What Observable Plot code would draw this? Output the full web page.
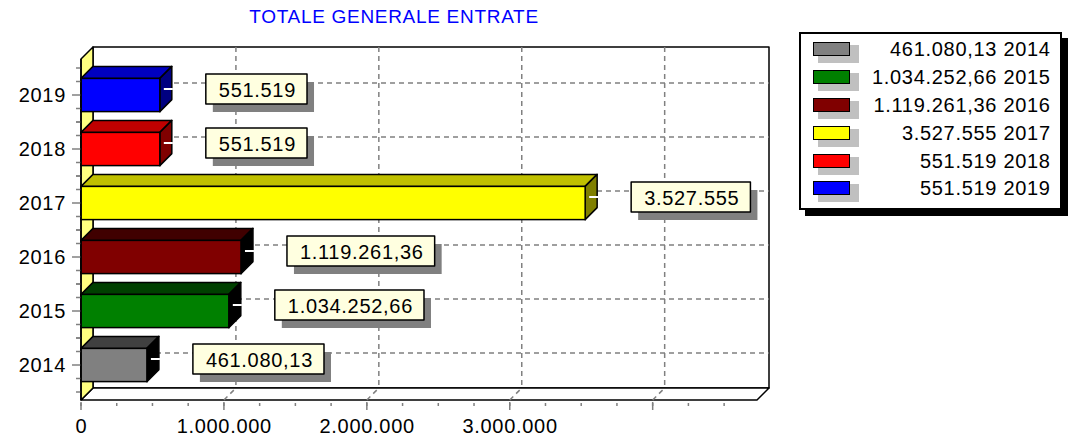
<!DOCTYPE html>
<html>
<head>
<meta charset="utf-8">
<script src="https://cdn.jsdelivr.net/npm/d3@7"></script>
<script src="https://cdn.jsdelivr.net/npm/@observablehq/plot@0.6"></script>
<style>
  body { margin: 0; background: #fff; font-family: "Liberation Sans", Arial, sans-serif; }
  #wrap { position: relative; width: 1075px; height: 439px; overflow: hidden; background: #fff; }
  #title { height: 30px; line-height: 30px; width: 788px; text-align: center; color: #0000ff; font-size: 19px; letter-spacing: 0.7px; }
  #title span { position: relative; top: 2px; }
  #chart svg { display: block; }
  #legend { position: absolute; left: 799px; top: 32px; width: 263px; height: 178px; box-sizing: border-box;
            border: 2px solid #000; background: #fff; box-shadow: 6px 6px 0 #000; }
  .row { position: absolute; left: 0; right: 0; height: 28px; line-height: 28px; font-size: 20px; letter-spacing: 0.7px; color: #000; }
  .sw { position: absolute; left: 12px; top: 7px; width: 37px; height: 14px; box-sizing: border-box; border: 1.5px solid #000;
        box-shadow: 7px 5px 0 2px #c0c0c0; }
  .lt { position: absolute; right: 9.3px; top: 0; white-space: nowrap; }
</style>
</head>
<body>
<div id="wrap">
  <div id="title"><span>TOTALE GENERALE ENTRATE</span></div>
  <div id="chart"></div>
  <div id="legend"></div>
</div>
<script>
// ---- data ----
const years = ["2014", "2015", "2016", "2017", "2018", "2019"];
const totals = [461080.13, 1034252.66, 1119261.36, 3527555, 551519, 551519];
const valueLabels = ["461.080,13", "1.034.252,66", "1.119.261,36", "3.527.555", "551.519", "551.519"];
const xTickValues = [0, 1000000, 2000000, 3000000, 4000000];
const xTickLabels = ["0", "1.000.000", "2.000.000", "3.000.000"];
const xMinorStep = 250000;
const xMax = 4730000;

// ---- palettes ----
const frontColors = ["#808080", "#008000", "#800000", "#ffff00", "#ff0000", "#0000ff"];
const topColors   = ["#404040", "#004000", "#400000", "#c0c000", "#c00000", "#0000c0"];
const sideColors  = ["#000000", "#000000", "#000000", "#808000", "#800000", "#000080"];

const data = years.map((year, i) => ({year, value: totals[i], label: valueLabels[i], top: topColors[i], side: sideColors[i]}));

const DEPTH = 12, INSET = 10.4, PAD = 8;
const FONT = '"Liberation Sans", Arial, sans-serif';
const NS = "http://www.w3.org/2000/svg";
function el(tag, attrs, parent) {
  const e = document.createElementNS(NS, tag);
  for (const k in attrs) e.setAttribute(k, attrs[k]);
  if (parent) parent.appendChild(e);
  return e;
}
const dash = {stroke: "#808080", "stroke-width": 1.5, "stroke-dasharray": "5,4", fill: "none"};
const outline = {stroke: "#000", "stroke-width": 1.5, "stroke-linejoin": "round"};
const pts = a => a.map(p => p.join(",")).join(" ");
const frameY = dim => ({yt: dim.marginTop - PAD, yb: dim.height - dim.marginBottom + PAD});

const canvas = document.createElement("canvas");
const ctx = canvas.getContext("2d");
ctx.font = '20px "Liberation Sans", Arial, sans-serif';
const measure = s => ctx.measureText(s).width + 0.7 * s.length;

function backdrop(index, scales, values, dim) {
  const {x, y} = scales;
  const g = el("g", {});
  const bw = y.bandwidth();
  const {yt, yb} = frameY(dim);
  const xl = x(0), xr = x(xMax);
  el("rect", {x: xl + DEPTH, y: yt - DEPTH, width: xr - xl, height: yb - yt, fill: "#fff", ...outline}, g);
  for (const t of xTickValues.slice(1)) el("line", {x1: x(t) + DEPTH, x2: x(t) + DEPTH, y1: yt - DEPTH, y2: yb - DEPTH, ...dash}, g);
  for (const yr of years) {
    const cy = y(yr) + bw / 2 - DEPTH;
    el("line", {x1: xl + DEPTH, x2: xr + DEPTH, y1: cy, y2: cy, ...dash}, g);
  }
  el("polygon", {points: pts([[xl, yb], [xl + DEPTH, yb - DEPTH], [xr + DEPTH, yb - DEPTH], [xr, yb]]), fill: "#fff", ...outline}, g);
  for (const t of xTickValues.slice(1)) el("line", {x1: x(t), y1: yb, x2: x(t) + DEPTH, y2: yb - DEPTH, ...dash}, g);
  el("polygon", {points: pts([[xl, yt], [xl + DEPTH, yt - DEPTH], [xl + DEPTH, yb - DEPTH], [xl, yb]]), fill: "#ffff80", ...outline}, g);
  return g;
}

function bars3d(index, scales, values, dim) {
  const {x, y} = scales;
  const g = el("g", {});
  const bw = y.bandwidth();
  for (const d of data) {
    const c = y(d.year) + bw / 2, h = bw / 2 - INSET;
    const x0 = x(0), x1 = x(d.value), t = c - h, b = c + h;
    el("polygon", {points: pts([[x0, t], [x0 + DEPTH, t - DEPTH], [x1 + DEPTH, t - DEPTH], [x1, t]]), fill: d.top, ...outline}, g);
    el("polygon", {points: pts([[x1, t], [x1 + DEPTH, t - DEPTH], [x1 + DEPTH, b - DEPTH], [x1, b]]), fill: d.side, ...outline}, g);
  }
  return g;
}

function valueBoxes(index, scales, values, dim) {
  const {x, y} = scales;
  const g = el("g", {});
  const bw = y.bandwidth();
  for (const d of data) {
    const c = y(d.year) + bw / 2, x1 = x(d.value);
    el("line", {x1: x1 + 4, x2: x1 + DEPTH + 1, y1: c - 6, y2: c - 6, stroke: "#fff", "stroke-width": 2}, g);
    const tw = measure(d.label);
    const bx = x1 + 46, by = c - 21, w = tw + 24, h = 30;
    el("rect", {x: bx + 7, y: by + 8, width: w, height: h, fill: "#808080"}, g);
    el("rect", {x: bx, y: by, width: w, height: h, fill: "#ffffe0", ...outline}, g);
    const tx = el("text", {x: bx + 13, y: c + 1.5, "text-anchor": "start", fill: "#000", "font-size": 20, "font-family": FONT, style: "letter-spacing:0.7px"}, g);
    tx.textContent = d.label;
  }
  return g;
}

function axes(index, scales, values, dim) {
  const {x, y} = scales;
  const g = el("g", {});
  const bw = y.bandwidth(), step = y.step();
  const {yt, yb} = frameY(dim);
  const xl = x(0);
  years.forEach((yr, i) => {
    const c = y(yr) + bw / 2;
    el("line", {x1: xl - 9, x2: xl, y1: c, y2: c, stroke: "#808080", "stroke-width": 1.5}, g);
    for (const f of [-0.5, -0.25, 0.25, 0.5]) {
      const yy = c + f * step;
      el("line", {x1: xl - 5, x2: xl, y1: yy, y2: yy, stroke: "#808080", "stroke-width": 1.5}, g);
    }
    const t = el("text", {x: xl - 15, y: c + 7, "text-anchor": "end", fill: "#000", "font-size": 20, "font-family": FONT, style: "letter-spacing:0.7px"}, g);
    t.textContent = yr;
  });
  for (const v of d3.range(0, xMax, xMinorStep)) {
    el("line", {x1: x(v), x2: x(v), y1: yb + 3, y2: yb + 6, stroke: "#808080", "stroke-width": 1.5}, g);
  }
  for (const v of xTickValues) {
    el("line", {x1: x(v), x2: x(v), y1: yb + 2, y2: yb + 10, stroke: "#808080", "stroke-width": 1.5}, g);
  }
  xTickLabels.forEach((s, i) => {
    const t = el("text", {x: x(xTickValues[i]) + 0.35, y: yb + 33, "text-anchor": "middle", fill: "#000", "font-size": 20, "font-family": FONT, style: "letter-spacing:0.7px"}, g);
    t.textContent = s;
  });
  el("line", {x1: xl, x2: xl, y1: yt, y2: yb, stroke: "#000", "stroke-width": 1.5}, g);
  return g;
}

const chart = Plot.plot({
  width: 1075,
  height: 409,
  marginLeft: 81,
  marginRight: 318,
  marginTop: 37,
  marginBottom: 47,
  style: {background: "transparent", overflow: "visible"},
  x: {domain: [0, xMax], axis: null},
  y: {type: "band", domain: years.slice().reverse(), padding: 0, axis: null},
  color: {type: "ordinal", domain: years, range: frontColors},
  marks: [
    backdrop,
    bars3d,
    Plot.barX(data, {x: "value", y: "year", fill: "year", stroke: "#000", strokeWidth: 1.5, insetTop: INSET, insetBottom: INSET}),
    valueBoxes,
    axes
  ]
});
document.getElementById("chart").appendChild(chart);

const legend = document.getElementById("legend");
years.forEach((yr, i) => {
  const row = document.createElement("div");
  row.className = "row";
  row.style.top = (1.3 + i * 27.8) + "px";
  const sw = document.createElement("div");
  sw.className = "sw";
  sw.style.background = frontColors[i];
  const lt = document.createElement("div");
  lt.className = "lt";
  lt.textContent = valueLabels[i] + " " + yr;
  row.appendChild(sw);
  row.appendChild(lt);
  legend.appendChild(row);
});
</script>
</body>
</html>
